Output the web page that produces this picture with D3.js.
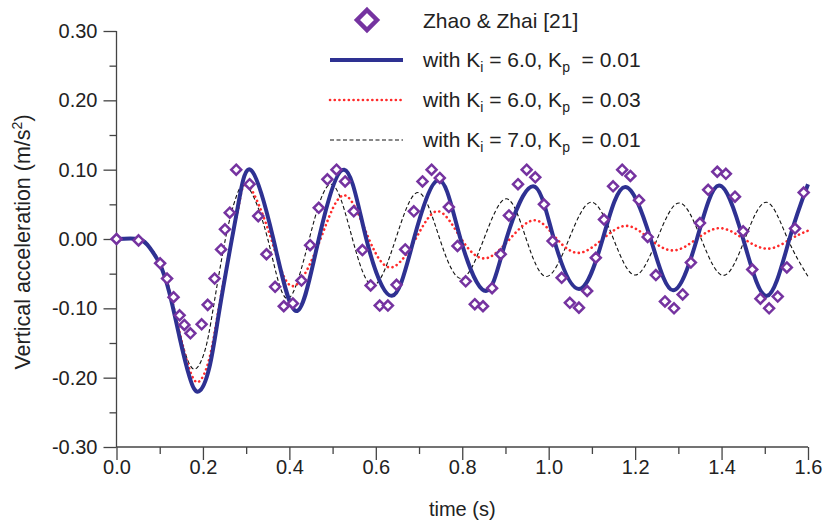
<!DOCTYPE html>
<html>
<head>
<meta charset="utf-8">
<script src="https://cdn.jsdelivr.net/npm/d3@7"></script>
<style>
  html, body { margin: 0; padding: 0; background: #fff; }
  svg text { font-family: "Liberation Sans", Arial, sans-serif; fill: #222; white-space: pre; }
</style>
</head>
<body>
<svg id="chart" width="825" height="524"></svg>
<script>
// Measured response of the vertical acceleration (Zhao & Zhai [21])
const refTime = [0, 0.051, 0.101, 0.117, 0.132, 0.146, 0.157, 0.171, 0.197, 0.211, 0.227, 0.242, 0.251, 0.262, 0.277,
  0.308, 0.328, 0.347, 0.367, 0.387, 0.408, 0.428, 0.448, 0.468, 0.488, 0.509, 0.529, 0.549, 0.569, 0.588,
  0.609, 0.628, 0.648, 0.668, 0.688, 0.708, 0.729, 0.748, 0.769, 0.789, 0.808, 0.829, 0.848, 0.869, 0.889,
  0.908, 0.929, 0.949, 0.969, 0.989, 1.009, 1.030, 1.049, 1.070, 1.089, 1.109, 1.128, 1.149, 1.170, 1.189,
  1.209, 1.229, 1.248, 1.269, 1.290, 1.310, 1.329, 1.350, 1.369, 1.390, 1.410, 1.431, 1.450, 1.471, 1.490,
  1.510, 1.530, 1.551, 1.570, 1.590];
const refAcc = [0, -0.002, -0.035, -0.057, -0.084, -0.110, -0.124, -0.136, -0.123, -0.095, -0.057, -0.015, 0.014, 0.038, 0.100,
  0.079, 0.033, -0.022, -0.069, -0.097, -0.093, -0.060, -0.009, 0.045, 0.086, 0.100, 0.083, 0.040, -0.016, -0.067,
  -0.096, -0.096, -0.066, -0.015, 0.040, 0.083, 0.100, 0.088, 0.046, -0.010, -0.061, -0.094, -0.097, -0.071, -0.022,
  0.034, 0.079, 0.100, 0.089, 0.050, -0.003, -0.056, -0.092, -0.099, -0.075, -0.027, 0.028, 0.076, 0.100, 0.091,
  0.056, 0.003, -0.052, -0.090, -0.100, -0.080, -0.034, 0.023, 0.071, 0.097, 0.094, 0.061, 0.011, -0.044, -0.086,
  -0.100, -0.083, -0.041, 0.015, 0.067];

// Ki = 6.0, Kp = 0.01
const timeA = [0, 0.051, 0.076, 0.100, 0.123, 0.146, 0.169, 0.190, 0.215, 0.238, 0.267, 0.285, 0.312, 0.363, 0.416,
  0.468, 0.527, 0.578, 0.637, 0.688, 0.746, 0.796, 0.855, 0.902, 0.964, 1.012, 1.070, 1.125, 1.177, 1.236,
  1.288, 1.343, 1.394, 1.450, 1.505, 1.557, 1.600];
const accA = [0, 0, -0.012, -0.036, -0.079, -0.142, -0.199, -0.220, -0.185, -0.103, 0, 0.061, 0.099, 0, -0.104,
  0, 0.100, 0, -0.082, 0, 0.085, 0, -0.075, 0, 0.076, 0, -0.072, 0, 0.075, 0,
  -0.074, 0, 0.077, 0, -0.082, 0, 0.079];

// Ki = 6.0, Kp = 0.03
const timeB = [0, 0.051, 0.076, 0.100, 0.123, 0.146, 0.169, 0.190, 0.215, 0.238, 0.267, 0.285, 0.306, 0.358, 0.408,
  0.472, 0.528, 0.584, 0.636, 0.692, 0.744, 0.798, 0.852, 0.910, 0.968, 1.019, 1.070, 1.125, 1.180, 1.234,
  1.288, 1.342, 1.396, 1.452, 1.508, 1.560, 1.600];
const accB = [0, 0, -0.011, -0.034, -0.075, -0.135, -0.188, -0.206, -0.172, -0.095, 0, 0.055, 0.077, 0, -0.068,
  0, 0.063, 0, -0.041, 0, 0.040, 0, -0.028, 0, 0.027, 0, -0.020, 0, 0.019, 0,
  -0.0165, 0, 0.0156, 0, -0.014, 0, 0.012];

// Ki = 7.0, Kp = 0.01
const timeC = [0, 0.051, 0.076, 0.100, 0.123, 0.146, 0.165, 0.184, 0.205, 0.223, 0.252, 0.277, 0.304, 0.350, 0.395,
  0.446, 0.497, 0.546, 0.594, 0.646, 0.698, 0.748, 0.798, 0.850, 0.902, 0.948, 0.995, 1.047, 1.099, 1.150,
  1.200, 1.251, 1.302, 1.353, 1.404, 1.454, 1.504, 1.553, 1.600];
const accC = [0, 0, -0.012, -0.036, -0.078, -0.135, -0.175, -0.187, -0.160, -0.103, 0, 0.061, 0.075, 0, -0.086,
  0, 0.079, 0, -0.067, 0, 0.067, 0, -0.057, 0, 0.058, 0, -0.054, 0, 0.053, 0,
  -0.052, 0, 0.052, 0, -0.0525, 0, 0.053, 0, -0.054];

const xTicks = [0, 0.2, 0.4, 0.6, 0.8, 1.0, 1.2, 1.4, 1.6];
const xMinorTicks = [0.1, 0.3, 0.5, 0.7, 0.9, 1.1, 1.3, 1.5];
const yTicks = [-0.3, -0.2, -0.1, 0, 0.1, 0.2, 0.3];
const yMinorTicks = [-0.25, -0.15, -0.05, 0.05, 0.15, 0.25];

const svg = d3.select("#chart");
const x = d3.scaleLinear().domain([0, 1.6]).range([116.5, 808]);
const y = d3.scaleLinear().domain([-0.3, 0.3]).range([447, 31]);

const axisColor = "#444";
const tickFont = "20px";
// plain hyphen for negative tick labels
const fmtY = d => d3.format(".2f")(d).replace("\u2212", "-");

// y axis: major and minor ticks point outward
const yMajor = svg.append("g").attr("transform", `translate(${x(0)},0)`)
  .call(d3.axisLeft(y).tickValues(yTicks).tickFormat(fmtY).tickSize(13).tickPadding(6));
const yMinor = svg.append("g").attr("transform", `translate(${x(0)},0)`)
  .call(d3.axisLeft(y).tickValues(yMinorTicks).tickFormat("").tickSize(7));

// x axis
const xMajor = svg.append("g").attr("transform", `translate(0,${y(-0.3)})`)
  .call(d3.axisBottom(x).tickValues(xTicks).tickFormat(d3.format(".1f")).tickSize(13).tickPadding(0));
const xMinor = svg.append("g").attr("transform", `translate(0,${y(-0.3)})`)
  .call(d3.axisBottom(x).tickValues(xMinorTicks).tickFormat("").tickSize(7));

[yMajor, yMinor, xMajor, xMinor].forEach(g => {
  g.select(".domain").remove();
  g.selectAll(".tick line").attr("stroke", axisColor).attr("stroke-width", 1.3);
  g.selectAll(".tick text").attr("fill", "#222")
    .style("font-size", tickFont).style("font-family", "'Liberation Sans', Arial, sans-serif");
});
svg.append("line").attr("x1", x(0)).attr("x2", x(0)).attr("y1", y(0.3)).attr("y2", y(-0.3))
  .attr("stroke", axisColor).attr("stroke-width", 1.3);
svg.append("line").attr("x1", x(0)).attr("x2", x(1.6)).attr("y1", y(-0.3)).attr("y2", y(-0.3))
  .attr("stroke", axisColor).attr("stroke-width", 1.3);

// axis titles
svg.append("text").attr("x", x(0.8)).attr("y", 516).attr("text-anchor", "middle")
  .style("font-size", "20px").text("time (s)");
const yt = svg.append("text").attr("transform", `translate(30,242) rotate(-90)`)
  .attr("text-anchor", "middle").style("font-size", "21.5px");
yt.append("tspan").text("Vertical acceleration (m/s");
yt.append("tspan").attr("dy", -8).style("font-size", "14px").text("2");
yt.append("tspan").attr("dy", 8).text(")");

const line = d3.line().curve(d3.curveNatural).x(d => x(d[0])).y(d => y(d[1]));
const zip = (a, b) => a.map((t, i) => [t, b[i]]);

svg.append("path").datum(zip(timeC, accC)).attr("d", line)
  .attr("fill", "none").attr("stroke", "#111").attr("stroke-width", 1.1).attr("stroke-dasharray", "4,2.5");
svg.append("path").datum(zip(timeB, accB)).attr("d", line)
  .attr("fill", "none").attr("stroke", "#ff2a2a").attr("stroke-width", 2.6)
  .attr("stroke-dasharray", "0.1,4.6").attr("stroke-linecap", "round");
svg.append("path").datum(zip(timeA, accA)).attr("d", line)
  .attr("fill", "none").attr("stroke", "#2e3192").attr("stroke-width", 4);

const purple = "#7533a0";
const diamond = (cx, cy, r) => `M${cx},${cy - r}L${cx + r},${cy}L${cx},${cy + r}L${cx - r},${cy}Z`;
svg.append("g").selectAll("path").data(zip(refTime, refAcc)).join("path")
  .attr("d", d => diamond(x(d[0]), y(d[1]), 5))
  .attr("fill", "#fff").attr("stroke", purple).attr("stroke-width", 2.5);

// legend
const lg = svg.append("g");
lg.append("path").attr("d", diamond(367, 20, 10)).attr("fill", "#fff").attr("stroke", purple).attr("stroke-width", 4.5);
lg.append("text").attr("x", 423).attr("y", 28).style("font-size", "21px").text("Zhao & Zhai [21]");

const rows = [
  { y: 60, ki: "6.0", kp: "0.01", stroke: "#2e3192", w: 4, dash: null, cap: "butt" },
  { y: 100, ki: "6.0", kp: "0.03", stroke: "#ff2a2a", w: 2.6, dash: "0.1,4.6", cap: "round" },
  { y: 140, ki: "7.0", kp: "0.01", stroke: "#111", w: 1.1, dash: "4,2.5", cap: "butt" }
];
rows.forEach(r => {
  lg.append("line").attr("x1", 330).attr("x2", 403).attr("y1", r.y).attr("y2", r.y)
    .attr("stroke", r.stroke).attr("stroke-width", r.w).attr("stroke-dasharray", r.dash).attr("stroke-linecap", r.cap);
  const t = lg.append("text").attr("x", 423).attr("y", r.y + 6.5).style("font-size", "21px");
  t.append("tspan").text("with K");
  t.append("tspan").attr("dy", 5).style("font-size", "14px").text("i");
  t.append("tspan").attr("dy", -5).text(` = ${r.ki}, K`);
  t.append("tspan").attr("dy", 5).style("font-size", "14px").text("p");
  t.append("tspan").attr("dy", -5).text(`  = ${r.kp}`);
});
</script>
</body>
</html>
